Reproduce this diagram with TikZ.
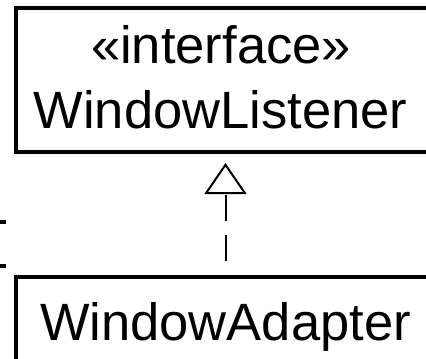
\documentclass[tikz,border=0pt]{standalone}
\usepackage{fontspec}
\setmainfont{Liberation Sans}
\usetikzlibrary{arrows.meta}
\tikzset{
  umlbox/.style={draw, line width=4pt, rectangle, inner sep=0pt},
  umltext/.style={anchor=base, inner sep=0pt, font=\fontsize{52.5}{60}\selectfont},
  realize/.style={line width=2pt, dash pattern=on 26pt off 14pt, dash phase=26pt,
    -{Triangle[open, length=31pt, width=42pt, line width=2pt]}, shorten >=9pt},
  tick/.style={line width=4pt}
}
\begin{document}
\begin{tikzpicture}[x=1pt,y=-1pt]
\useasboundingbox (0,0) rectangle (426,359);
\node[umlbox, minimum width=420pt, minimum height=144pt] (top) at (226,80) {};
\node[umlbox, minimum width=420pt, minimum height=144pt] (bot) at (226,349) {};
\node[umltext] (st) at (221,63) {«interface»};
\node[umltext] (wl) at (220.5,128) {WindowListener};
\node[umltext] (wa) at (225.5,340) {WindowAdapter};
\draw[realize] (bot.north -| 225.5,0) -- (top.south -| 225.5,0);
\coordinate (m1a) at (0,222); \coordinate (m1b) at (6,222);
\coordinate (m2a) at (0,266); \coordinate (m2b) at (6,266);
\draw[tick] (m1a) -- (m1b);
\draw[tick] (m2a) -- (m2b);
\end{tikzpicture}
\end{document}
